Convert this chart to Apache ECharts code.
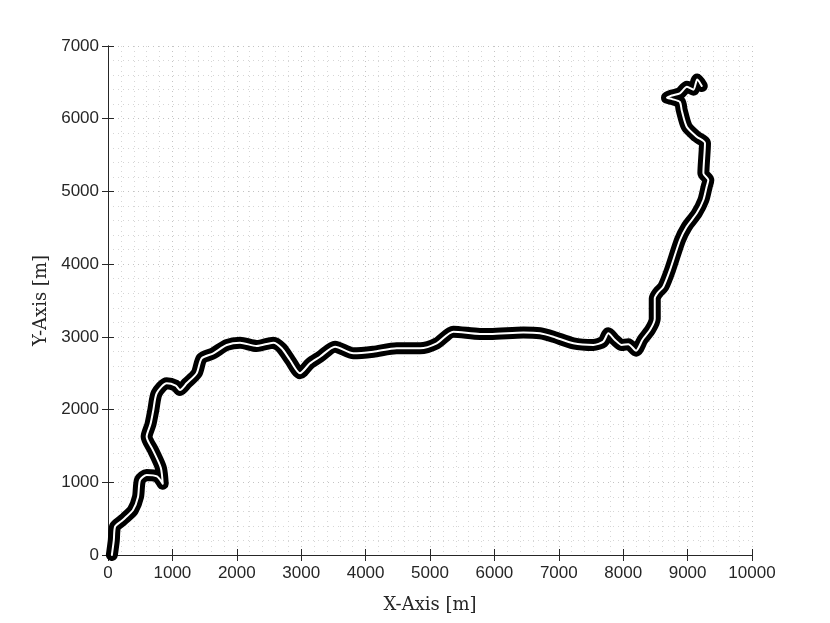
<!DOCTYPE html>
<html><head><meta charset="utf-8">
<script src="https://cdn.jsdelivr.net/npm/echarts@6/dist/echarts.min.js"></script>
<style>html,body{margin:0;padding:0;background:#fff}#c{width:830px;height:623px}</style>
</head><body><div id="c"></div>
<script>
const xTicks = [0,1000,2000,3000,4000,5000,6000,7000,8000,9000,10000];
const yTicks = [0,1000,2000,3000,4000,5000,6000,7000];
const pathX = [60,90,110,200,264,388,466,497,600,760,850,820,700,600,660,704,756,911,1050,1118,1222,1377,1455,1636,1843,2050,2309,2567,2697,2826,2981,3137,3292,3525,3810,4120,4482,4845,5104,5362,5776,5932,6449,6708,6915,7226,7536,7691,7769,7873,7977,8080,8200,8300,8420,8490,8490,8540,8623,8727,8882,8986,9141,9245,9296,9322,9245,9270,9141,8986,8908,8880,8760,8680,8760,8880,8990,9090,9150,9220];
const pathY = [0,200,390,460,509,619,798,1031,1100,1080,980,1200,1440,1627,1800,1994,2224,2361,2330,2269,2361,2499,2705,2774,2888,2920,2874,2920,2843,2682,2499,2636,2727,2865,2774,2796,2843,2843,2911,3071,3040,3040,3060,3049,3002,2911,2888,2934,3049,2957,2888,2900,2810,2960,3100,3250,3530,3610,3690,3920,4332,4515,4699,4882,5065,5157,5249,5662,5753,5891,6120,6230,6270,6290,6320,6350,6440,6400,6540,6450];
const pts = pathX.map((x,i)=>[x,pathY[i]]);
const axisCol = '#262626';
const majorGrid = {show:true, lineStyle:{color:'#c4c4c4', type:[1,4], width:1}};
const minorGrid = {show:true, lineStyle:{color:'#d6d6d6', type:[1,4], width:1}};
const fmt = v => String(v);
const chart = echarts.init(document.getElementById('c'));
chart.setOption({
  animation:false,
  grid:{left:108,right:78,top:46,bottom:68},
  xAxis:[{
    type:'value', min:0, max:10000, interval:1000,
    name:'X-Axis [m]', nameLocation:'middle', nameGap:41,
    nameTextStyle:{fontFamily:'DejaVu Serif', fontSize:18, color:axisCol},
    axisLine:{show:true, onZero:false, lineStyle:{color:axisCol}},
    axisTick:{show:true, inside:true, length:6, lineStyle:{color:axisCol}},
    axisLabel:{fontFamily:'Liberation Sans', fontSize:17, color:axisCol, margin:10, formatter:fmt},
    splitLine:majorGrid,
    minorTick:{show:false, splitNumber:5},
    minorSplitLine:minorGrid
  },{
    type:'value', position:'top', min:0, max:10000, interval:1000,
    axisLine:{show:true, lineStyle:{color:axisCol}},
    axisTick:{show:true, inside:true, length:6, lineStyle:{color:axisCol}},
    axisLabel:{show:false}, splitLine:{show:false}
  }],
  yAxis:[{
    type:'value', min:0, max:7000, interval:1000,
    name:'Y-Axis [m]', nameLocation:'middle', nameGap:58,
    nameTextStyle:{fontFamily:'DejaVu Serif', fontSize:18, color:axisCol},
    axisLine:{show:true, onZero:false, lineStyle:{color:axisCol}},
    axisTick:{show:true, inside:true, length:6, lineStyle:{color:axisCol}},
    axisLabel:{fontFamily:'Liberation Sans', fontSize:17, color:axisCol, margin:9, formatter:fmt},
    splitLine:majorGrid,
    minorTick:{show:false, splitNumber:5},
    minorSplitLine:minorGrid
  },{
    type:'value', position:'right', min:0, max:7000, interval:1000,
    axisLine:{show:true, lineStyle:{color:axisCol}},
    axisTick:{show:true, inside:true, length:6, lineStyle:{color:axisCol}},
    axisLabel:{show:false}, splitLine:{show:false}
  }],
  series:[
    {type:'line', data:pts, showSymbol:false, smooth:0.25, lineStyle:{color:'#000', width:12, cap:'round', join:'round'}},
    {type:'line', data:pts, showSymbol:false, smooth:0.25, lineStyle:{color:'#fff', width:2, cap:'round', join:'round'}}
  ]
});
</script></body></html>
